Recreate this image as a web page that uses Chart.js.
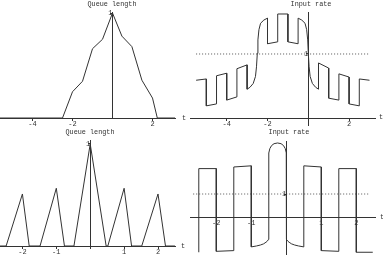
<!DOCTYPE html>
<html><head><meta charset="utf-8">
<script src="https://cdn.jsdelivr.net/npm/chart.js@4/dist/chart.umd.min.js"></script>
<style>
html,body{margin:0;padding:0;background:#fff;width:383px;height:255px;overflow:hidden;position:relative;}
canvas{position:absolute;}
.lbl{position:absolute;font-family:"Liberation Mono","DejaVu Sans Mono",monospace;font-size:6.8px;color:#333;white-space:nowrap;line-height:1;transform:translate(-50%,-50%);}
</style></head><body>
<canvas id="c1" width="190" height="128" style="left:0;top:0"></canvas>
<canvas id="c2" width="193" height="128" style="left:190px;top:0"></canvas>
<canvas id="c3" width="190" height="127" style="left:0;top:128px"></canvas>
<canvas id="c4" width="193" height="127" style="left:190px;top:128px"></canvas>
<div class="lbl" style="left:112px;top:4px">Queue length</div>
<div class="lbl" style="left:311px;top:4px">Input rate</div>
<div class="lbl" style="left:90px;top:132px">Queue length</div>
<div class="lbl" style="left:289px;top:132px">Input rate</div>
<div class="lbl" style="left:184px;top:118px">t</div>
<div class="lbl" style="left:381px;top:117px">t</div>
<div class="lbl" style="left:183px;top:246px">t</div>
<div class="lbl" style="left:382px;top:217px">t</div>
<script>
// ---- data ----
const queueA_t = [-5.625, -2.5, -2.0, -1.5, -1.0, -0.5, 0.0, 0.47, 0.97, 1.47, 2.0, 2.24, 3.125];
const queueA_q = [0, 0, 0.25, 0.35, 0.66, 0.75, 1.0, 0.78, 0.68, 0.36, 0.19, 0, 0];
const queueA_xticks = [-4, -2, 2];

const rateA_t = [-5.5, -5.0, -5.0, -4.5, -4.5, -4.0, -4.0, -3.5, -3.5, -3.0, -3.0,
  -2.86, -2.70, -2.59, -2.54, -2.50, -2.47, -2.42, -2.34, -2.18,
  -2.0, -2.0, -1.5, -1.5, -1.0, -1.0, -0.5, -0.5,
  -0.32, -0.16, -0.08, -0.03, 0.0, 0.04, 0.09, 0.2, 0.36,
  0.5, 0.5, 1.0, 1.0, 1.5, 1.5, 2.0, 2.0, 2.5, 2.5, 3.0];
const rateA_v = [0.59, 0.61, 0.19, 0.22, 0.66, 0.70, 0.28, 0.33, 0.77, 0.83, 0.45,
  0.48, 0.54, 0.65, 0.80, 1.01, 1.22, 1.38, 1.48, 1.53,
  1.56, 1.16, 1.19, 1.625, 1.625, 1.19, 1.16, 1.56,
  1.53, 1.48, 1.38, 1.22, 1.01, 0.80, 0.65, 0.54, 0.48,
  0.45, 0.86, 0.78, 0.31, 0.28, 0.69, 0.64, 0.22, 0.19, 0.61, 0.59];
const rateA_ref_t = [-5.5, 3.0];
const rateA_ref_v = [1, 1];
const rateA_xticks = [-4, -2, 2];

const queueB_t = [-2.66, -2.48, -2.0, -1.8, -1.48, -1.0, -0.76, -0.48, 0, 0.47, 0.52, 1.0, 1.22, 1.52, 2.0, 2.22, 2.5];
const queueB_q = [0, 0, 0.51, 0, 0, 0.566, 0, 0, 1.0, 0, 0, 0.566, 0, 0, 0.51, 0, 0];
const queueB_xticks = [-2, -1, 1, 2];

const rateB_t = [-2.5, -2.5, -2.0, -2.0, -1.5, -1.5, -1.0, -1.0,
  -0.85, -0.74, -0.65, -0.58, -0.54, -0.51, -0.5,
  -0.5, -0.47, -0.42, -0.35, -0.25, -0.15, -0.08, -0.03, 0,
  0, 0.01, 0.04, 0.08, 0.15, 0.24, 0.35, 0.5,
  0.5, 1.0, 1.0, 1.5, 1.5, 2.0, 2.0, 2.47];
const rateB_v = [-1.5, 2.09, 2.09, -1.46, -1.43, 2.16, 2.21, -1.27,
  -1.23, -1.19, -1.14, -1.07, -1.02, -0.95, -0.89,
  2.76, 2.95, 3.08, 3.16, 3.19, 3.16, 3.08, 2.95, 2.76,
  -0.89, -0.95, -1.02, -1.07, -1.14, -1.19, -1.23, -1.27,
  2.21, 2.16, -1.43, -1.46, 2.09, 2.09, -1.5, -1.5];
const rateB_ref_t = [-2.66, 2.39];
const rateB_ref_v = [1, 1];
const rateB_xticks = [-2, -1, 1, 2];

const yTicks = [1];

// ---- helpers ----
const pts = (ts, vs) => ts.map((t, i) => ({x: t, y: vs[i]}));
const FONT = {family: '"Liberation Mono", "DejaVu Sans Mono", monospace', size: 7};
const INK = '#333';

function axis(opts, ticksArr, pos) {
  return Object.assign({
    type: 'linear',
    position: pos,
    afterBuildTicks: s => { s.ticks = ticksArr.map(v => ({value: v})); },
    afterFit: s => { s.paddingLeft = 0; s.paddingRight = 0; s.paddingTop = 0; s.paddingBottom = 0; },
    grid: {display: true, drawOnChartArea: false, drawTicks: true, tickLength: 2, color: INK, lineWidth: 1},
    border: {display: true, color: INK, width: 1},
    ticks: {font: FONT, color: '#333', padding: 0, maxRotation: 0, autoSkip: false}
  }, opts);
}

function makeChart(id, series, ref, xr, yr, xticks, pad) {
  const datasets = [{
    data: pts(series[0], series[1]), showLine: true, pointRadius: 0,
    borderColor: INK, borderWidth: 1, tension: 0, fill: false
  }];
  if (ref) datasets.push({
    data: pts(ref[0], ref[1]), showLine: true, pointRadius: 0,
    borderColor: '#555', borderWidth: 1, borderDash: [1, 2], fill: false
  });
  new Chart(document.getElementById(id), {
    type: 'scatter',
    data: {datasets},
    options: {
      responsive: false, animation: false, devicePixelRatio: 1, events: [],
      layout: {padding: pad},
      plugins: {legend: {display: false}, tooltip: {enabled: false}, title: {display: false}},
      scales: {
        x: axis({min: xr[0], max: xr[1]}, xticks, {y: 0}),
        y: axis({min: yr[0], max: yr[1]}, yTicks, {x: 0})
      }
    }
  });
}

makeChart('c1', [queueA_t, queueA_q], null, [-5.625, 3.125], [0, 1.01], queueA_xticks,
  {left: 0, right: 15, top: 12, bottom: 10});
makeChart('c2', [rateA_t, rateA_v], [rateA_ref_t, rateA_ref_v], [-5.8, 3.27], [-0.109, 1.656], rateA_xticks,
  {left: 0, right: 8, top: 12, bottom: 3});
makeChart('c3', [queueB_t, queueB_q], null, [-2.661, 2.501], [-0.0196, 1.039], queueB_xticks,
  {left: 0, right: 15, top: 12, bottom: 7});
makeChart('c4', [rateB_t, rateB_v], [rateB_ref_t, rateB_ref_v], [-2.751, 2.534], [-1.618, 3.275], rateB_xticks,
  {left: 0, right: 8, top: 13, bottom: 0});
</script>
</body></html>
